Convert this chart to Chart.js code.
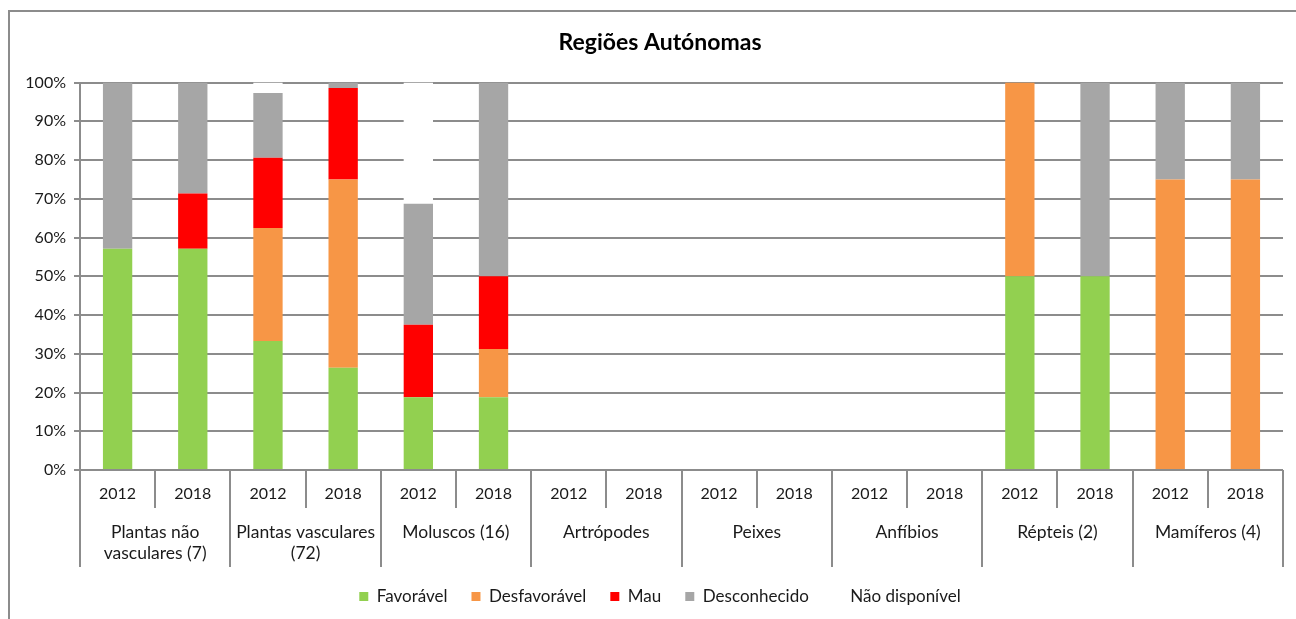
<!DOCTYPE html>
<html>
<head>
<meta charset="utf-8">
<script src="https://cdn.jsdelivr.net/npm/chart.js@4.4.1/dist/chart.umd.min.js"></script>
<style>
  html, body { margin: 0; padding: 0; background: #fff; overflow: hidden; }
  #box {
    position: absolute; left: 8px; top: 10px;
    width: 1300px; height: 630px;
    border: 2px solid #8c8c8c;
    background: #fff;
  }
</style>
</head>
<body>
<div id="box"><canvas id="estado"></canvas></div>
<script>
// anos e grupos taxonómicos
const anos = ["2012", "2018", "2012", "2018", "2012", "2018", "2012", "2018",
              "2012", "2018", "2012", "2018", "2012", "2018", "2012", "2018"];
const grupos = [["Plantas não", "vasculares (7)"], ["Plantas vasculares", "(72)"], "Moluscos (16)",
                "Artrópodes", "Peixes", "Anfíbios", "Répteis (2)", "Mamíferos (4)"];

// percentagens por estado de conservação
const favoravel     = [57.1, 57.1, 33.3, 26.4, 18.75, 18.75, null, null, null, null, null, null, 50, 50, 0, 0];
const desfavoravel  = [0, 0, 29.2, 48.6, 0, 12.5, null, null, null, null, null, null, 50, 0, 75, 75];
const mau           = [0, 14.3, 18.1, 23.6, 18.75, 18.75, null, null, null, null, null, null, 0, 0, 0, 0];
const desconhecido  = [42.9, 28.6, 16.7, 1.4, 31.25, 50, null, null, null, null, null, null, 0, 50, 25, 25];
const naoDisponivel = [0, 0, 2.7, 0, 31.25, 0, null, null, null, null, null, null, 0, 0, 0, 0];

const yTicks = [0, 10, 20, 30, 40, 50, 60, 70, 80, 90, 100];

const cores = {
    fav: "#92D050",
    desf: "#F79646",
    mau: "#FF0000",
    desc: "#A6A6A6",
    nd: "#FFFFFF",
    grelha: "#8c8c8c",
    texto: "#1a1a1a"
};

const fonte = "Lato, 'Liberation Sans', sans-serif";

// linhas verticais que separam anos e grupos por baixo do eixo
const separadores = {
    id: "separadores",
    afterDraw(chart) {
        const x = chart.scales.x;
        const ctx = chart.ctx;
        const bottom = chart.chartArea.bottom;
        const passo = x.getPixelForValue(1) - x.getPixelForValue(0);
        ctx.save();
        ctx.strokeStyle = cores.grelha;
        ctx.lineWidth = 2;
        for (let i = 0; i <= anos.length; i++) {
            const px = Math.round(x.getPixelForValue(i) - passo / 2);
            const fim = i % 2 === 0 ? bottom + 97 : bottom + 38;
            ctx.beginPath();
            ctx.moveTo(px, bottom);
            ctx.lineTo(px, fim);
            ctx.stroke();
        }
        ctx.restore();
    }
};

function serie(label, data, cor) {
    return {
        label: label,
        data: data,
        backgroundColor: cor,
        borderWidth: 0,
        categoryPercentage: 1,
        barPercentage: 0.39
    };
}

new Chart(document.getElementById("estado"), {
    type: "bar",
    data: {
        labels: anos,
        datasets: [
            serie("Favorável", favoravel, cores.fav),
            serie("Desfavorável", desfavoravel, cores.desf),
            serie("Mau", mau, cores.mau),
            serie("Desconhecido", desconhecido, cores.desc),
            serie("Não disponível", naoDisponivel, cores.nd)
        ]
    },
    options: {
        responsive: true,
        maintainAspectRatio: false,
        animation: false,
        layout: { padding: { left: 0, right: 0, top: 0, bottom: 27 } },
        plugins: {
            title: {
                display: true,
                text: "Regiões Autónomas",
                color: "#000",
                font: { family: fonte, size: 23, weight: "bold" },
                padding: { top: 17, bottom: 26 }
            },
            legend: {
                position: "bottom",
                labels: {
                    boxWidth: 9,
                    boxHeight: 9,
                    padding: 24,
                    color: cores.texto,
                    font: { family: fonte, size: 17 }
                }
            },
            tooltip: { enabled: false }
        },
        scales: {
            x: {
                stacked: true,
                weight: 1,
                grid: { display: false },
                border: { display: false },
                ticks: {
                    color: cores.texto,
                    font: { family: fonte, size: 16 },
                    padding: 6,
                    maxRotation: 0,
                    autoSkip: false
                },
                afterFit(s) { s.height = 38; }
            },
            x2: {
                type: "category",
                position: "bottom",
                weight: 2,
                labels: grupos,
                offset: true,
                grid: { display: false },
                border: { display: false },
                ticks: {
                    color: cores.texto,
                    font: { family: fonte, size: 17.5, lineHeight: 1.25 },
                    padding: 5,
                    maxRotation: 0,
                    autoSkip: false
                },
                afterFit(s) { s.height = 56; }
            },
            y: {
                stacked: true,
                min: 0,
                max: 100,
                afterBuildTicks(s) { s.ticks = yTicks.map(v => ({ value: v })); },
                grid: { color: cores.grelha, lineWidth: 2, tickLength: 6 },
                border: { color: cores.grelha, width: 2 },
                ticks: {
                    color: cores.texto,
                    font: { family: fonte, size: 16 },
                    padding: 8,
                    callback: v => v + "%"
                },
                afterFit(s) { s.width = 70; }
            },
            // margem à direita da área do gráfico
            margem: {
                type: "linear",
                position: "right",
                grid: { display: false },
                border: { display: false },
                ticks: { display: false },
                afterFit(s) { s.width = 27; }
            }
        }
    },
    plugins: [separadores]
});
</script>
</body>
</html>
